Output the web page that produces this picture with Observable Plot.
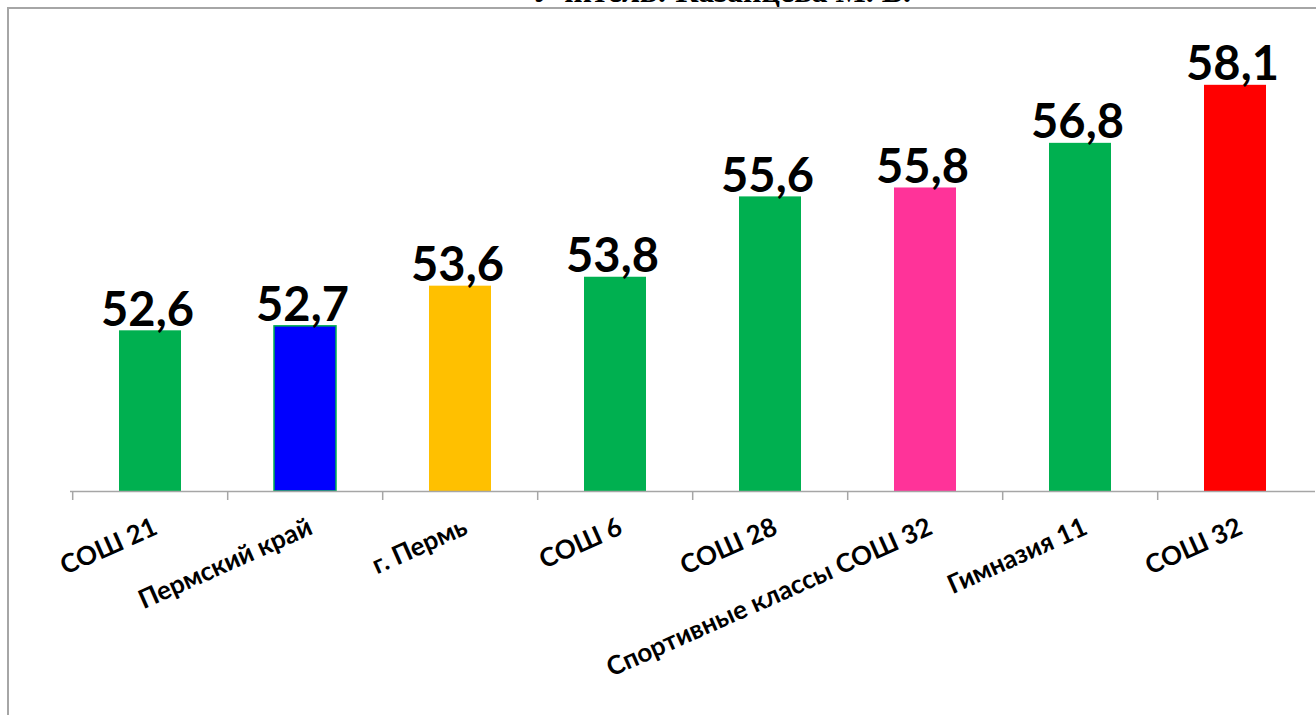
<!DOCTYPE html>
<html><head><meta charset="utf-8">
<script src="https://cdn.jsdelivr.net/npm/d3@7"></script>
<script src="https://cdn.jsdelivr.net/npm/@observablehq/plot@0.6"></script>
<style>
html,body{margin:0;padding:0;background:#fff;overflow:hidden;width:1316px;height:715px;}
#wrap{position:relative;width:1316px;height:715px;overflow:hidden;}
#frame{position:absolute;left:7px;top:7px;right:-10px;bottom:-10px;border-left:2px solid #a6a6a6;border-top:2px solid #a6a6a6;}
#title{position:absolute;left:532px;top:-25px;white-space:nowrap;font:bold 32px "Liberation Serif";line-height:1;color:#000;}
#chart{position:absolute;left:0;top:0;}
</style></head><body>
<div id="wrap"><div id="title">Учитель: Казанцева М. В.</div><div id="frame"></div><div id="chart"></div></div>
<script>
const categories = ["СОШ 21", "Пермский край", "г. Пермь", "СОШ 6", "СОШ 28", "Спортивные классы СОШ 32", "Гимназия 11", "СОШ 32"];
const values = [52.6, 52.7, 53.6, 53.8, 55.6, 55.8, 56.8, 58.1];
const colors = ["#00B050", "#0000FF", "#FFC000", "#00B050", "#00B050", "#FF3399", "#00B050", "#FF0000"];
const outlines = ["none", "#00B050", "none", "none", "none", "none", "none", "none"];
const yDomain = [49, 60];

const data = categories.map((c, i) => ({category: c, value: values[i], color: colors[i], outline: outlines[i]}));

const W = 1316, H = 715, mL = 70, mR = 1, mT = 0, mB = 224;
const step = (W - mL - mR) / categories.length;

const chart = Plot.plot({
  width: W, height: H,
  marginLeft: mL, marginRight: mR, marginTop: mT, marginBottom: mB,
  style: {background: "transparent", overflow: "visible"},
  x: {type: "band", domain: categories, paddingInner: 0.6, paddingOuter: 0.3, label: null},
  y: {domain: yDomain, axis: null},
  color: {type: "identity"},
  marks: [
    Plot.barY(data, {x: "category", y1: yDomain[0], y2: "value", fill: "color", stroke: "outline", strokeWidth: 1.5}),
    Plot.ruleY([yDomain[0]], {stroke: "#a6a6a6", strokeWidth: 1.5}),
    Plot.axisX({tickSize: 9, tickFormat: () => "", label: null, dx: -step / 2, stroke: "#a6a6a6", strokeWidth: 1.5, strokeOpacity: 1}),
    Plot.text(data, {x: "category", y: "value", text: d => d.value.toFixed(1).replace(".", ","),
      lineAnchor: "bottom", dx: -3, dy: -5, fontSize: 47, fontWeight: "bold", fontFamily: "Lato", fill: "#000"}),
    Plot.text(categories, {x: d => d, frameAnchor: "bottom", text: d => d, rotate: -24,
      textAnchor: "end", lineAnchor: "top", dx: 1, dy: 25, fontSize: 26, fontWeight: "bold", fontFamily: "Lato", fill: "#000"})
  ]
});
document.getElementById("chart").appendChild(chart);
</script>
</body></html>
